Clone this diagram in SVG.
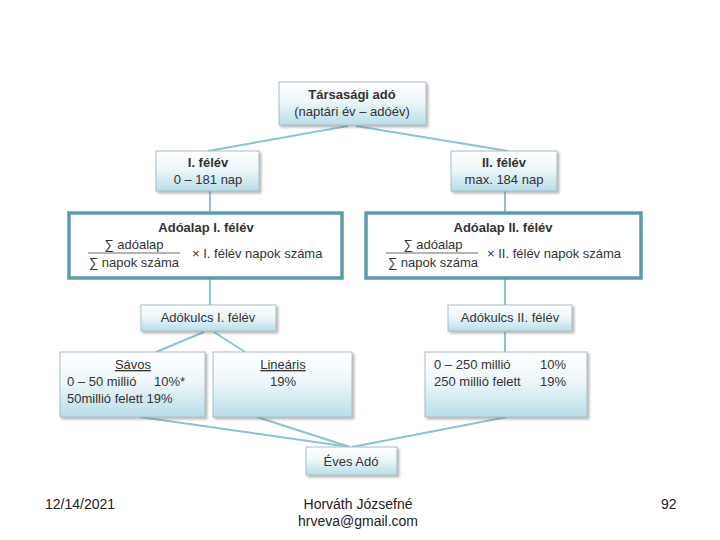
<svg xmlns="http://www.w3.org/2000/svg" width="720" height="540" viewBox="0 0 720 540">
<defs>
<linearGradient id="g" x1="0" y1="0" x2="0" y2="1">
<stop offset="0" stop-color="#ffffff"/>
<stop offset="0.45" stop-color="#eef7fa"/>
<stop offset="1" stop-color="#b9dde9"/>
</linearGradient>
<filter id="sh" x="-10%" y="-10%" width="125%" height="135%">
<feDropShadow dx="2" dy="2" stdDeviation="1.2" flood-color="#666" flood-opacity="0.45"/>
</filter>
<style>
.box{fill:url(#g);stroke:#a9bcc4;stroke-width:1;filter:url(#sh)}
.big{fill:#ffffff;stroke:#5c9ba8;stroke-width:3.5}
.c{stroke:#8cc3cf;stroke-width:2;fill:none}
text{font-family:"Liberation Sans",Arial,sans-serif;fill:#333;font-size:13px}
.b{font-weight:bold}
.m{text-anchor:middle}
.f{font-family:"Liberation Sans",Arial,sans-serif;font-size:14px;fill:#222}
.u{text-decoration:underline}
</style>
</defs>
<rect width="720" height="540" fill="#ffffff"/>
<g id="connectors">
<line class="c" x1="348" y1="126" x2="208" y2="151"/>
<line class="c" x1="356" y1="126" x2="508" y2="151"/>
<line class="c" x1="210" y1="191" x2="210" y2="213"/>
<line class="c" x1="505" y1="191" x2="505" y2="213"/>
<line class="c" x1="210" y1="278" x2="210" y2="305"/>
<line class="c" x1="505" y1="278" x2="505" y2="305"/>
<line class="c" x1="204" y1="332" x2="156" y2="352"/>
<line class="c" x1="214" y1="332" x2="245" y2="352"/>
<line class="c" x1="505" y1="332" x2="505" y2="352"/>
<line class="c" x1="140" y1="417" x2="350" y2="447"/>
<line class="c" x1="257" y1="417" x2="350" y2="447"/>
<line class="c" x1="507" y1="417" x2="352" y2="447"/>
</g>
<g id="tarsasagi">
<rect class="box" x="279" y="82" width="147" height="43"/>
<text class="b m" x="352" y="99" font-size="13.5">Társasági adó</text>
<text class="m" x="352" y="116">(naptári év – adóév)</text>
</g>
<g id="felev1">
<rect class="box" x="156" y="151" width="103" height="40"/>
<text class="b m" x="208" y="167">I. félév</text>
<text class="m" x="208" y="184">0 – 181 nap</text>
</g>
<g id="felev2">
<rect class="box" x="451" y="151" width="106" height="40"/>
<text class="b m" x="504" y="167">II. félév</text>
<text class="m" x="504" y="184">max. 184 nap</text>
</g>
<g id="adoalap1">
<rect class="big" x="69" y="213" width="273" height="65"/>
<text class="b m" x="206" y="232" font-size="13.5">Adóalap I. félév</text>
<text class="m" x="134" y="249">∑ adóalap</text>
<line x1="88" y1="253" x2="180" y2="253" stroke="#444" stroke-width="0.8"/>
<text class="m" x="134" y="267">∑ napok száma</text>
<text x="192" y="258">× I. félév napok száma</text>
</g>
<g id="adoalap2">
<rect class="big" x="366" y="213" width="275" height="65"/>
<text class="b m" x="503" y="232" font-size="13.5">Adóalap II. félév</text>
<text class="m" x="433" y="249">∑ adóalap</text>
<line x1="386" y1="253" x2="478" y2="253" stroke="#444" stroke-width="0.8"/>
<text class="m" x="433" y="267">∑ napok száma</text>
<text x="487" y="258">× II. félév napok száma</text>
</g>
<g id="adokulcs1">
<rect class="box" x="141" y="305" width="135" height="26"/>
<text class="m" x="208" y="322">Adókulcs I. félév</text>
</g>
<g id="adokulcs2">
<rect class="box" x="448" y="305" width="124" height="26"/>
<text class="m" x="510" y="322">Adókulcs II. félév</text>
</g>
<g id="savos">
<rect class="box" x="60" y="352" width="145" height="65"/>
<text class="m u" x="133" y="369">Sávos</text>
<text x="67" y="386">0 – 50 millió</text>
<text x="154" y="386">10%*</text>
<text x="67" y="403">50millió felett 19%</text>
</g>
<g id="linearis">
<rect class="box" x="213" y="352" width="139" height="65"/>
<text class="m u" x="283" y="369">Lineáris</text>
<text class="m" x="283" y="386">19%</text>
</g>
<g id="sav2">
<rect class="box" x="425" y="352" width="162" height="65"/>
<text x="434" y="369">0 – 250 millió</text>
<text x="540" y="369">10%</text>
<text x="434" y="386">250 millió felett</text>
<text x="540" y="386">19%</text>
</g>
<g id="eves">
<rect class="box" x="306" y="447" width="91" height="28"/>
<text class="m" x="351" y="466">Éves Adó</text>
</g>
<g id="footer">
<text class="f" x="45" y="509">12/14/2021</text>
<text class="f m" x="358" y="509">Horváth Józsefné</text>
<text class="f m" x="358" y="526">hrveva@gmail.com</text>
<text class="f" x="661" y="509">92</text>
</g>
</svg>
